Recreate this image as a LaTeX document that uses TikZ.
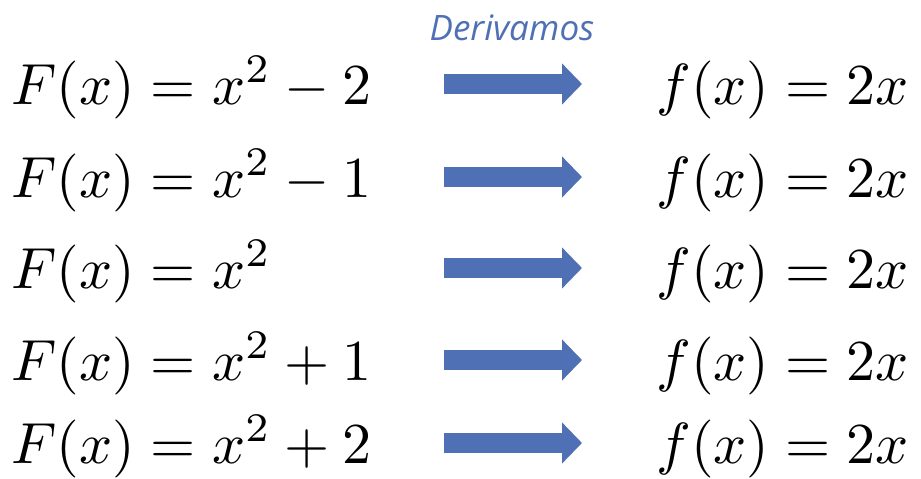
\documentclass[tikz,border=0pt]{standalone}
\usepackage{fontspec}
\newfontfamily\handfont{Open Sans}
\usetikzlibrary{arrows.meta}
\definecolor{azul}{RGB}{79,112,181}
\tikzset{
  flecha/.style={azul, line width=20pt, -{Triangle[length=20pt,width=40pt]}},
  expr/.style={inner sep=0pt, scale=5.8, transform shape},
  nota/.style={inner sep=0pt, azul, font=\handfont\itshape\fontsize{35}{38}\selectfont},
}
\begin{document}
\begin{tikzpicture}[x=1pt,y=-1pt]
\useasboundingbox (0,0) rectangle (921,479);
\node [nota, anchor=base] (deriv) at (512,40) {Derivamos};
% one row per constant
\foreach \y/\rest [count=\i] in {84/{-2}, 177/{-1}, 268/{}, 360/{+1}, 443/{+2}} {
  \node [expr, anchor=base west] (F\i) at (10,\y+20) {$F(x) = x^2 \rest$};
  \node [expr, anchor=base east] (f\i) at (910,\y+20) {$f(x) = 2x$};
  \coordinate (a\i) at (444,\y);
  \coordinate (b\i) at (582,\y);
  \draw [flecha] (a\i) -- (b\i);
}
\end{tikzpicture}
\end{document}
